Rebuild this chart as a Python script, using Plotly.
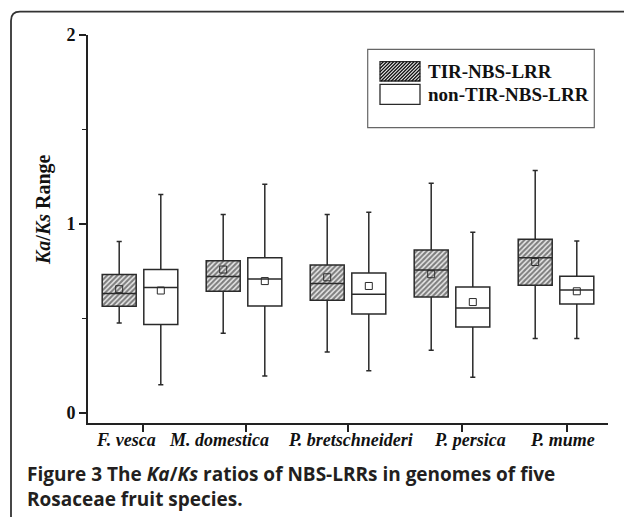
import plotly.graph_objects as go

# ---------------- data ----------------
categories = ["F. vesca", "M. domestica", "P. bretschneideri", "P. persica", "P. mume"]

tir_lower = [0.476, 0.422, 0.323, 0.332, 0.394]
tir_q1 = [0.565, 0.644, 0.596, 0.614, 0.676]
tir_median = [0.632, 0.722, 0.685, 0.757, 0.822]
tir_q3 = [0.733, 0.806, 0.783, 0.862, 0.919]
tir_upper = [0.908, 1.050, 1.050, 1.215, 1.283]
tir_mean = [0.655, 0.759, 0.718, 0.734, 0.799]

non_lower = [0.150, 0.196, 0.224, 0.189, 0.394]
non_q1 = [0.468, 0.566, 0.524, 0.455, 0.577]
non_median = [0.664, 0.709, 0.628, 0.556, 0.651]
non_q3 = [0.759, 0.822, 0.741, 0.667, 0.723]
non_upper = [1.156, 1.210, 1.062, 0.956, 0.910]
non_mean = [0.648, 0.698, 0.672, 0.587, 0.644]

y_ticks = [0, 1, 2]
y_tick_labels = ["0", "1", "2"]
series_names = ["TIR-NBS-LRR", "non-TIR-NBS-LRR"]

# ---------------- layout constants ----------------
W, H = 624, 517
L, T, R, B = 88, 35, 16, 94
PW, PH = W - L - R, H - T - B
OFF = 0.2
BW = 0.327
INK = "#2a2a2a"
SERIF = "Liberation Serif"
UNIT_PX = PW / 5.0
TICK_PX = [142.7, 245.7, 348.3, 462.3, 566.7]   # x tick marks (pixel layout)
LABEL_PX = [126, 219, 350, 470, 562]            # x label centres (pixel layout)


def px(x):
    return (x - L) / PW


def py(y):
    return (H - B - y) / PH


def px_to_x(p):
    return (p - L) / UNIT_PX - 0.5


idx = list(range(len(categories)))
x_tir = [i - OFF for i in idx]
x_non = [i + OFF for i in idx]

fig = go.Figure()

# hatched fill for TIR boxes
fig.add_trace(go.Bar(
    x=x_tir, base=tir_q1, y=[a - b for a, b in zip(tir_q3, tir_q1)],
    width=BW, showlegend=False, hoverinfo="skip",
    marker=dict(color="white", line=dict(width=0),
                pattern=dict(shape="/", fgcolor="#111", bgcolor="#ececec",
                             size=3.6, solidity=0.6)),
))

box_line = dict(color=INK, width=1.5)
fig.add_trace(go.Box(
    x=x_tir, q1=tir_q1, median=tir_median, q3=tir_q3,
    lowerfence=tir_lower, upperfence=tir_upper,
    width=BW, whiskerwidth=0.15, boxpoints=False,
    fillcolor="rgba(0,0,0,0)", line=box_line, name=series_names[0],
    showlegend=False,
))
fig.add_trace(go.Box(
    x=x_non, q1=non_q1, median=non_median, q3=non_q3,
    lowerfence=non_lower, upperfence=non_upper,
    width=BW, whiskerwidth=0.15, boxpoints=False,
    fillcolor="white", line=box_line, name=series_names[1],
    showlegend=False,
))
# means
fig.add_trace(go.Scatter(
    x=x_tir + x_non, y=tir_mean + non_mean, mode="markers",
    marker=dict(symbol="square-open", size=7, color=INK, line=dict(width=1)),
    showlegend=False, hoverinfo="skip",
))

shapes = []
# outer frame with rounded top-left corner
fx, fy, r = 11, 11.7, 9
shapes.append(dict(
    type="path", xref="paper", yref="paper",
    path=(f"M {px(fx)} {py(H + 10)} L {px(fx)} {py(fy + r)} "
          f"Q {px(fx)} {py(fy)} {px(fx + r)} {py(fy)} L {px(W + 10)} {py(fy)}"),
    line=dict(color="#333", width=1.8),
))
# legend frame
shapes.append(dict(type="rect", xref="paper", yref="paper",
                   x0=px(367.7), x1=px(594.3), y0=py(127.7), y1=py(49.3),
                   line=dict(color="#666", width=1.2), fillcolor="white"))
# hatched swatch
sx0, sx1, sy0, sy1 = 380, 420, 61.7, 81
shapes.append(dict(type="rect", xref="paper", yref="paper",
                   x0=px(sx0), x1=px(sx1), y0=py(sy1), y1=py(sy0),
                   line=dict(color=INK, width=1.3), fillcolor="#ececec"))
segs = []
step = 3.4
c = sx0 + sy0 + step
while c < sx1 + sy1:
    xa, ya = c - sy1, sy1
    if xa < sx0:
        xa, ya = sx0, c - sx0
    xb, yb = c - sy0, sy0
    if xb > sx1:
        xb, yb = sx1, c - sx1
    segs.append(f"M {px(xa)} {py(ya)} L {px(xb)} {py(yb)}")
    c += step
shapes.append(dict(type="path", xref="paper", yref="paper", path=" ".join(segs),
                   line=dict(color="#111", width=1.3)))
# plain swatch
shapes.append(dict(type="rect", xref="paper", yref="paper",
                   x0=px(380), x1=px(420), y0=py(104.3), y1=py(84.3),
                   line=dict(color=INK, width=1.3), fillcolor="white"))

annotations = [
    dict(text=f"<b>{series_names[0]}</b>", x=px(426), y=py(71.3), xref="paper", yref="paper",
         xanchor="left", yanchor="middle", showarrow=False,
         font=dict(family=SERIF, size=19, color="#111")),
    dict(text=f"<b>{series_names[1]}</b>", x=px(426), y=py(94.3), xref="paper", yref="paper",
         xanchor="left", yanchor="middle", showarrow=False,
         font=dict(family=SERIF, size=19, color="#111")),
    dict(text="<b><i>Ka</i>/<i>Ks</i> Range</b>", x=px(44), y=py(210), xref="paper", yref="paper",
         textangle=-90, xanchor="center", yanchor="middle", showarrow=False,
         font=dict(family=SERIF, size=20, color="#111")),
    dict(text="<b>Figure 3</b> <b>The <i>Ka</i>/<i>Ks</i> ratios of NBS-LRRs in genomes of five<br>"
              "Rosaceae fruit species.</b>",
         x=px(25), y=py(459), xref="paper", yref="paper", align="left",
         xanchor="left", yanchor="top", showarrow=False,
         font=dict(family="Open Sans", size=19, color="#231f20")),
]
# category labels under the x axis
for name, lp in zip(categories, LABEL_PX):
    annotations.append(dict(
        text=f"<b><i>{name}</i></b>", x=px_to_x(lp), y=py(428), xref="x", yref="paper",
        xanchor="center", yanchor="top", showarrow=False,
        font=dict(family=SERIF, size=18, color="#111")))

fig.update_layout(
    width=W, height=H, margin=dict(l=L, r=R, t=T, b=B),
    paper_bgcolor="white", plot_bgcolor="white",
    shapes=shapes, annotations=annotations, showlegend=False,
    xaxis=dict(range=[-0.5, 4.5], tickvals=[px_to_x(p) for p in TICK_PX],
               showticklabels=False,
               showline=True, linecolor="#222", linewidth=1.6,
               ticks="outside", ticklen=7, tickwidth=1.5, tickcolor="#222",
               showgrid=False, zeroline=False),
    yaxis=dict(range=[-0.053, 2], tickvals=y_ticks,
               ticktext=[f"<b>{t}</b>" for t in y_tick_labels],
               showline=True, linecolor="#222", linewidth=1.6,
               ticks="outside", ticklen=7, tickwidth=1.5, tickcolor="#222",
               minor=dict(dtick=0.5, ticks="outside", ticklen=4, tickwidth=1.3, tickcolor="#222"),
               showgrid=False, zeroline=False,
               tickfont=dict(family=SERIF, size=18, color="#111")),
)

fig.write_html("out.html", post_script="document.body.style.margin='0';",
               config={"displayModeBar": False})
